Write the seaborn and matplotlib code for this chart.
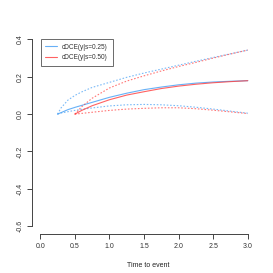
import numpy as np
import pandas as pd
import matplotlib
matplotlib.use("Agg")
import matplotlib.pyplot as plt
import seaborn as sns

# ---- data ----
t_blue = [0.25, 0.3, 0.4, 0.5, 0.6, 0.75, 1.0, 1.25, 1.5, 1.75, 2.0, 2.25, 2.5, 2.75, 3.0]
blue_est = [0.0, 0.008, 0.024, 0.036, 0.047, 0.063, 0.090, 0.112, 0.131, 0.145, 0.157, 0.166, 0.172, 0.176, 0.179]
blue_up = [0.0, 0.033, 0.075, 0.100, 0.119, 0.143, 0.170, 0.197, 0.220, 0.241, 0.262, 0.283, 0.303, 0.323, 0.343]
blue_lo = [0.0, 0.006, 0.013, 0.020, 0.026, 0.033, 0.044, 0.050, 0.052, 0.050, 0.045, 0.037, 0.027, 0.016, 0.005]

t_red = [0.5, 0.6, 0.75, 1.0, 1.25, 1.5, 1.75, 2.0, 2.25, 2.5, 2.75, 3.0]
red_est = [0.0, 0.020, 0.045, 0.077, 0.102, 0.120, 0.137, 0.150, 0.160, 0.168, 0.174, 0.179]
red_up = [0.0, 0.040, 0.085, 0.140, 0.177, 0.205, 0.231, 0.255, 0.277, 0.300, 0.322, 0.343]
red_lo = [0.0, 0.004, 0.010, 0.020, 0.027, 0.031, 0.034, 0.034, 0.029, 0.021, 0.012, 0.003]

labels = ["cDCE(y|s=0.25)", "cDCE(y|s=0.50)"]
x_ticks = [0.0, 0.5, 1.0, 1.5, 2.0, 2.5, 3.0]
y_ticks = [-0.6, -0.4, -0.2, 0.0, 0.2, 0.4]

sns.set_style("white")
plt.rcParams["font.family"] = ["Liberation Sans", "DejaVu Sans"]

blue = "#4DA3F5"
red = "#FF3B3B"

fig = plt.figure(figsize=(2.73, 2.73), dpi=100)
ax = fig.add_axes([0.117, 0.144, 0.821, 0.739])

def draw(t, vals, color, ls, lw, alpha):
    df = pd.DataFrame({"t": t, "v": vals})
    sns.lineplot(data=df, x="t", y="v", ax=ax, color=color, linestyle=ls,
                 linewidth=lw, alpha=alpha, legend=False)
    return ax.lines[-1]

dot = (0, (1.4, 1.6))
h1 = draw(t_blue, blue_est, blue, "-", 0.8, 0.85)
draw(t_blue, blue_up, blue, dot, 0.8, 0.75)
draw(t_blue, blue_lo, blue, dot, 0.8, 0.75)
h2 = draw(t_red, red_est, red, "-", 0.8, 0.8)
draw(t_red, red_up, red, dot, 0.8, 0.7)
draw(t_red, red_lo, red, dot, 0.8, 0.7)

ax.set_xlim(-0.12, 3.12)
ax.set_ylim(-0.64, 0.44)
ax.set_xticks(x_ticks)
ax.set_xticklabels([f"{v:.1f}" for v in x_ticks])
ax.set_yticks(y_ticks)
ax.set_yticklabels([f"{v:.1f}" for v in y_ticks], rotation=90, va="center")

for s in ["top", "right"]:
    ax.spines[s].set_visible(False)
ax.spines["left"].set_bounds(-0.6, 0.4)
ax.spines["bottom"].set_bounds(0, 3)
for s in ["left", "bottom"]:
    ax.spines[s].set_color("#444444")
    ax.spines[s].set_linewidth(0.7)

ax.tick_params(axis="both", direction="out", length=3.3, width=0.7, color="#444444",
               labelsize=5, labelcolor="#333333", bottom=True, left=True)
ax.tick_params(axis="x", pad=3.2)
ax.tick_params(axis="y", pad=2.5)

ax.set_xlabel("Time to event", fontsize=5, color="#222222")
ax.xaxis.set_label_coords(0.52, -0.14)
ax.set_ylabel("")

leg = ax.legend([h1, h2], labels, loc="upper left", bbox_to_anchor=(0.039, 0.965),
                fontsize=4.7, frameon=True, fancybox=False, handlelength=1.8,
                handletextpad=0.8, borderpad=0.7, labelspacing=0.6, borderaxespad=0)
leg.get_frame().set_edgecolor("#444444")
leg.get_frame().set_linewidth(0.7)
for txt in leg.get_texts():
    txt.set_color("#333333")

fig.savefig("out.png", dpi=100)
